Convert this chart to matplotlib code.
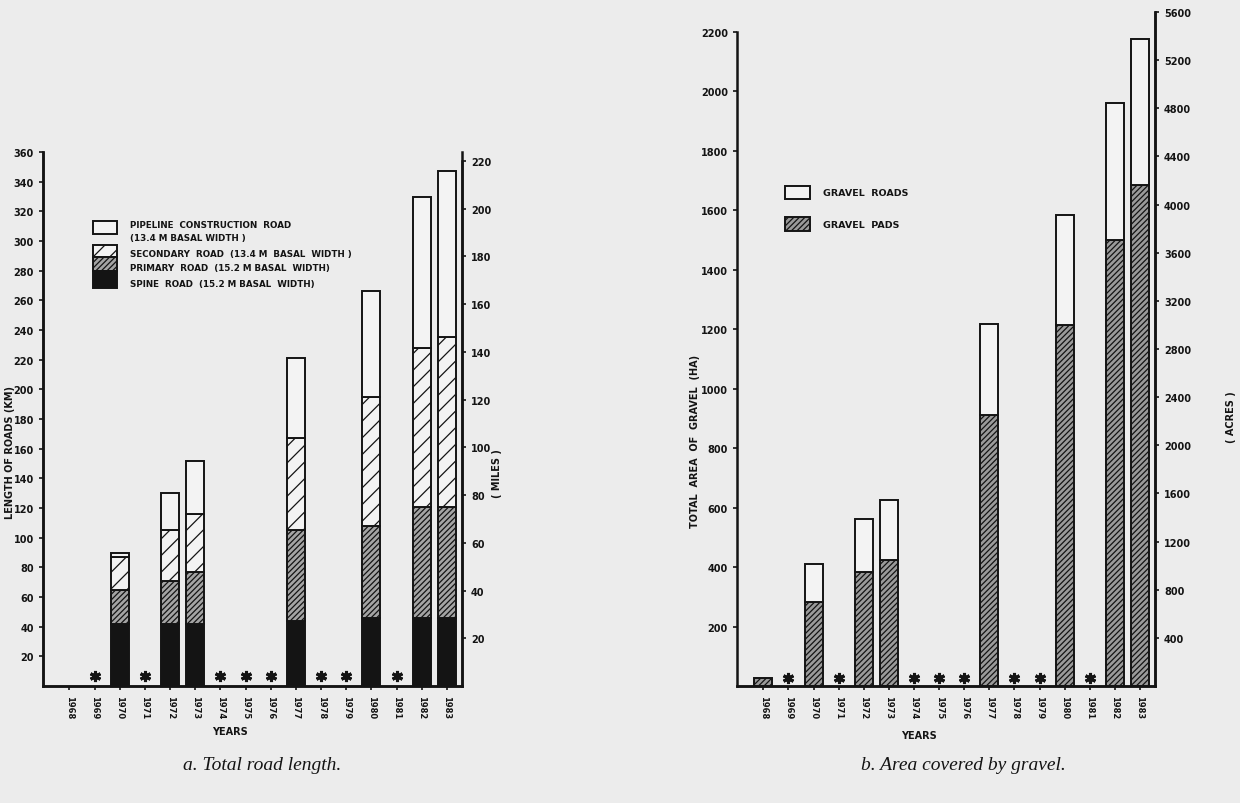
import matplotlib
matplotlib.use("Agg")
import matplotlib.pyplot as plt
from matplotlib.patches import Rectangle

# Données (0 = pas de barre)
years = list(range(1968, 1984))
year_labels = [str(y) for y in years]

# a. longueur des routes (km) par type
spine_km     = [0, 0, 42, 0, 42, 42, 0, 0, 0, 44, 0, 0, 46, 0, 46, 46]
primary_km   = [0, 0, 23, 0, 29, 35, 0, 0, 0, 61, 0, 0, 62, 0, 75, 75]
secondary_km = [0, 0, 22, 0, 34, 39, 0, 0, 0, 62, 0, 0, 87, 0, 107, 114]
pipeline_km  = [0, 0, 3, 0, 25, 36, 0, 0, 0, 54, 0, 0, 71, 0, 102, 112]
star_years_a = [1969, 1971, 1974, 1975, 1976, 1978, 1979, 1981]
star_km = 7

# b. surface de gravier (ha)
pads_ha  = [27, 0, 282, 0, 385, 422, 0, 0, 0, 912, 0, 0, 1215, 0, 1500, 1685]
roads_ha = [0, 0, 128, 0, 178, 205, 0, 0, 0, 305, 0, 0, 370, 0, 460, 490]
star_years_b = [1969, 1971, 1974, 1975, 1976, 1978, 1979, 1981]
star_ha = 28

KM_PER_MILE = 1.609
ACRES_PER_HA = 2.471

W, H = 1240, 804
bg = "#ececec"
ink = "#141414"
plt.rcParams["hatch.linewidth"] = 0.9
plt.rcParams["font.family"] = "DejaVu Sans"

fig = plt.figure(figsize=(W / 100, H / 100), dpi=100, facecolor=bg)


def fx(x):
    return x / W


def fy(y):
    return 1 - y / H


def stack(ax, values, bottoms, **kw):
    xs = [x for x, v in zip(years, values) if v > 0]
    hs = [v for v in values if v > 0]
    bs = [b for b, v in zip(bottoms, values) if v > 0]
    ax.bar(xs, hs, bottom=bs, width=0.72, edgecolor=ink, linewidth=1.4, zorder=3, **kw)


def style_axes(ax, twin):
    ax.set_facecolor("none")
    for ax_ in (ax, twin):
        ax_.spines["top"].set_visible(False)
        for s in ("left", "right", "bottom"):
            ax_.spines[s].set_linewidth(1.8)
            ax_.spines[s].set_color(ink)
    ax.tick_params(axis="both", direction="out", length=3, width=1.2, colors=ink,
                   labelsize=7)
    twin.tick_params(axis="y", direction="out", length=3, width=1.2, colors=ink,
                     labelsize=7)
    for lab in ax.get_yticklabels() + twin.get_yticklabels():
        lab.set_fontweight("bold")
    ax.set_xticks(years)
    ax.set_xticklabels(year_labels, rotation=-90, fontsize=6, fontweight="bold")
    ax.set_xlim(1966.95, 1983.6)


# ---------- a. Total road length ----------
ax1 = fig.add_axes([fx(43), fy(687), fx(462) - fx(43), fy(153) - fy(687)])
ax1b = ax1.twinx()

b0 = [0] * len(years)
b1 = [a for a in spine_km]
b2 = [a + b for a, b in zip(spine_km, primary_km)]
b3 = [a + b for a, b in zip(b2, secondary_km)]
stack(ax1, spine_km, b0, color=ink)
stack(ax1, primary_km, b1, facecolor="#a4a4a4", hatch="//////")
stack(ax1, secondary_km, b2, facecolor="#f3f3f3", hatch="//")
stack(ax1, pipeline_km, b3, facecolor="#f3f3f3")
ax1.plot(star_years_a, [star_km] * len(star_years_a), linestyle="none",
         marker=(6, 2, 0), markersize=8, markeredgewidth=2.2, color=ink, zorder=4)

ax1.set_ylim(0, 360)
ax1.set_yticks(range(20, 361, 20))
ax1b.set_ylim(0, 360 / KM_PER_MILE)
ax1b.set_yticks(range(20, 221, 20))
ax1b.spines["right"].set_bounds(0, 220)
style_axes(ax1, ax1b)

ax1.set_ylabel("LENGTH OF ROADS (KM)", fontsize=7, fontweight="bold", color=ink)
ax1.yaxis.set_label_coords(-0.067, 0.44)
ax1b.set_ylabel("( MILES )", fontsize=7, fontweight="bold", color=ink)
ax1b.yaxis.set_label_coords(1.072, 0.40)
ax1.text(0.446, -0.084, "YEARS", transform=ax1.transAxes, ha="center", va="center",
         fontsize=7, fontweight="bold", color=ink)

# légende a
leg_a = [
    (222, 235, dict(facecolor="#f3f3f3")),
    (246, 258, dict(facecolor="#f3f3f3", hatch="//")),
    (258, 272, dict(facecolor="#a4a4a4", hatch="//////")),
    (272, 289, dict(facecolor=ink)),
]
for y0, y1, kw in leg_a:
    fig.patches.append(Rectangle((fx(93), fy(y1)), fx(117) - fx(93), fy(y0) - fy(y1),
                                 transform=fig.transFigure, edgecolor=ink,
                                 linewidth=1.4, **kw))
leg_a_text = [
    (225, "PIPELINE  CONSTRUCTION  ROAD"),
    (239, "(13.4 M BASAL WIDTH )"),
    (254, "SECONDARY  ROAD  (13.4 M  BASAL  WIDTH )"),
    (269, "PRIMARY  ROAD  (15.2 M BASAL  WIDTH)"),
    (284, "SPINE  ROAD  (15.2 M BASAL  WIDTH)"),
]
for y, t in leg_a_text:
    fig.text(fx(130), fy(y), t, ha="left", va="center", fontsize=6.3,
             fontweight="bold", color=ink)

# ---------- b. Area covered by gravel ----------
ax2 = fig.add_axes([fx(737), fy(687), fx(1155) - fx(737), fy(13) - fy(687)])
ax2b = ax2.twinx()

stack(ax2, pads_ha, [0] * len(years), facecolor="#9a9a9a", hatch="//////")
stack(ax2, roads_ha, pads_ha, facecolor="#f3f3f3")
ax2.plot(star_years_b, [star_ha] * len(star_years_b), linestyle="none",
         marker=(6, 2, 0), markersize=8, markeredgewidth=2.2, color=ink, zorder=4)

top_ha = 5600 / ACRES_PER_HA
ax2.set_ylim(0, top_ha)
ax2.set_yticks(range(200, 2201, 200))
ax2.spines["left"].set_bounds(0, 2200)
ax2b.set_ylim(0, 5600)
ax2b.set_yticks(range(400, 5601, 400))
style_axes(ax2, ax2b)
ax2b.spines["left"].set_visible(False)

ax2.set_ylabel("TOTAL  AREA  OF  GRAVEL  (HA)", fontsize=7, fontweight="bold", color=ink)
ax2.yaxis.set_label_coords(-0.088, 0.365)
ax2b.set_ylabel("( ACRES )", fontsize=7, fontweight="bold", color=ink)
ax2b.yaxis.set_label_coords(1.17, 0.40)
ax2.text(0.435, -0.073, "YEARS", transform=ax2.transAxes, ha="center", va="center",
         fontsize=7, fontweight="bold", color=ink)

leg_b = [
    (187, 200, dict(facecolor="#f3f3f3"), "GRAVEL  ROADS", 194),
    (218, 232, dict(facecolor="#9a9a9a", hatch="//////"), "GRAVEL  PADS", 225),
]
for y0, y1, kw, t, ty in leg_b:
    fig.patches.append(Rectangle((fx(785), fy(y1)), fx(810) - fx(785), fy(y0) - fy(y1),
                                 transform=fig.transFigure, edgecolor=ink,
                                 linewidth=1.4, **kw))
    fig.text(fx(823), fy(ty), t, ha="left", va="center", fontsize=6.8,
             fontweight="bold", color=ink)

# légendes sous les graphiques
fig.text(fx(262), fy(766), "a. Total road length.", ha="center", va="center",
         fontsize=14, style="italic", family="Liberation Serif", color=ink)
fig.text(fx(963), fy(766), "b. Area covered by gravel.", ha="center", va="center",
         fontsize=14, style="italic", family="Liberation Serif", color=ink)

fig.savefig("out.png", dpi=100, facecolor=bg)
